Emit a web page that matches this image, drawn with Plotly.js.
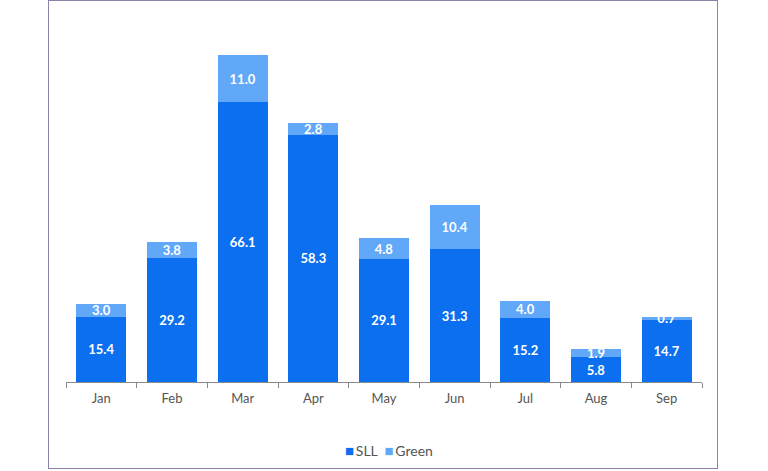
<!DOCTYPE html>
<html>
<head>
<meta charset="utf-8">
<script src="https://cdn.plot.ly/plotly-3.0.1.min.js"></script>
<style>
html,body{margin:0;padding:0;background:#fff;}
#frame{position:absolute;left:48px;top:0px;width:668px;height:467px;border:1.5px solid #8e80a8;pointer-events:none;z-index:10;}
#chart{position:absolute;left:0;top:0;width:768px;height:471px;}
</style>
</head>
<body>
<div id="chart"></div>
<div id="frame"></div>
<script>
const months = ["Jan","Feb","Mar","Apr","May","Jun","Jul","Aug","Sep"];
const sll = [15.4, 29.2, 66.1, 58.3, 29.1, 31.3, 15.2, 5.8, 14.7];
const green = [3.0, 3.8, 11.0, 2.8, 4.8, 10.4, 4.0, 1.9, 0.7];
const seriesNames = ["SLL", "Green"];
const seriesColors = ["#0b6ff0", "#62a8f8"];

const labelFont = {family: "Lato, 'Open Sans', sans-serif", size: 13, color: "#ffffff", weight: "bold"};

function barTrace(name, vals, color) {
  return {
    type: "bar", name: name, x: months, y: vals,
    text: vals.map(v => v.toFixed(1)), textposition: "inside", insidetextanchor: "middle",
    textangle: 0, constraintext: "none", cliponaxis: false,
    insidetextfont: labelFont, textfont: labelFont,
    marker: {color: color}, hoverinfo: "skip", showlegend: false
  };
}

const traces = [
  barTrace(seriesNames[0], sll, seriesColors[0]),
  barTrace(seriesNames[1], green, seriesColors[1])
];

const legendText = seriesNames.map((n, i) =>
  "<span style='color:" + seriesColors[i] + ";font-size:15px'>■</span>\u2009" + n).join("\u00a0\u00a0");

const layout = {
  width: 768, height: 471,
  margin: {l: 66, r: 66, t: 43, b: 89},
  barmode: "stack", bargap: 0.29,
  paper_bgcolor: "#ffffff", plot_bgcolor: "#ffffff",
  font: {family: "Lato, 'Open Sans', sans-serif", color: "#555555", size: 13},
  showlegend: false,
  annotations: [{
    xref: "paper", yref: "paper", x: 0.508, y: -0.2006, xanchor: "center", yanchor: "middle",
    showarrow: false, text: legendText, font: {size: 14, color: "#555555"}
  }],
  xaxis: {
    type: "category", showline: true, linecolor: "#8a8a8a", linewidth: 1,
    ticks: "outside", tickson: "boundaries", ticklen: 5, tickcolor: "#8a8a8a",
    tickfont: {size: 13, color: "#555555"}, showgrid: false, zeroline: false,
    ticklabelstandoff: 4, automargin: false
  },
  yaxis: {range: [0, 80], visible: false, showgrid: false, zeroline: false, automargin: false},
  hovermode: false
};

Plotly.newPlot("chart", traces, layout, {displayModeBar: false, staticPlot: true});
</script>
</body>
</html>
